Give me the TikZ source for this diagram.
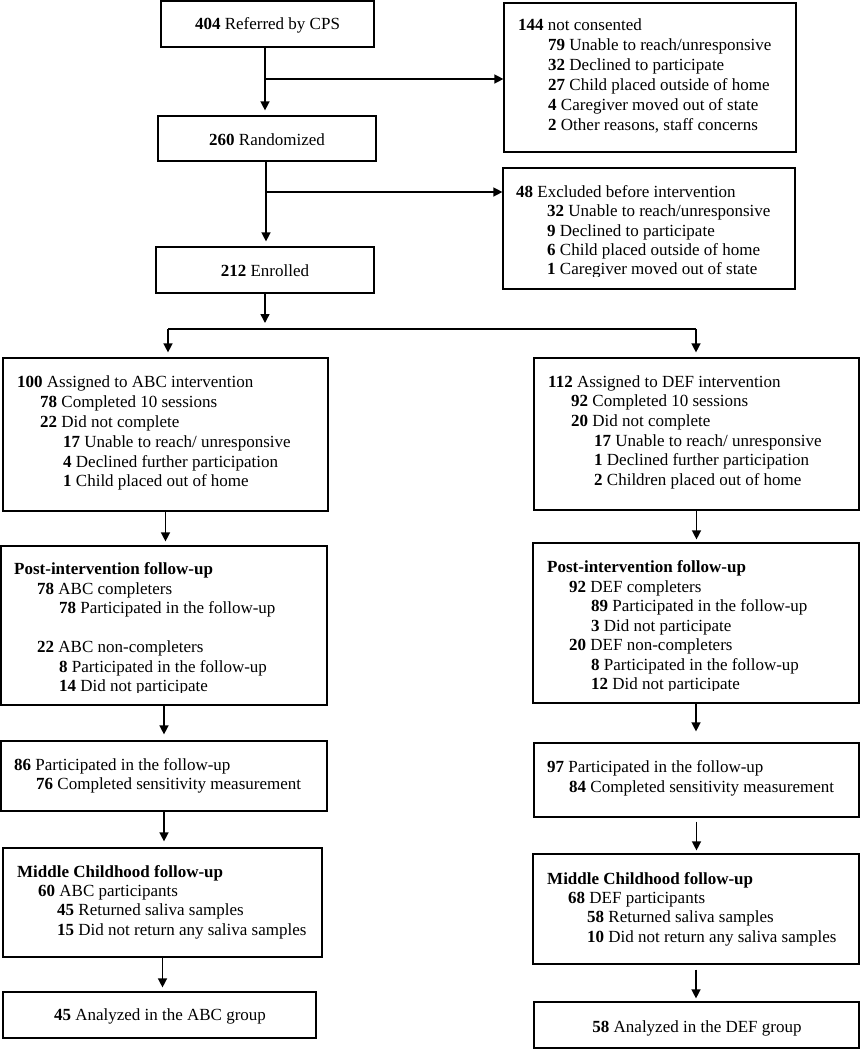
\documentclass[tikz,border=0pt]{standalone}
\usepackage{fontspec}
\setmainfont{Liberation Serif}
\usetikzlibrary{arrows.meta,fit}
\tikzset{
 box/.style={draw, line width=1.2pt, inner sep=0pt},
 txt/.style={inner sep=0pt, font=\fontsize{17}{20}\selectfont},
 arr/.style={line width=1.4pt, -{Triangle[length=9pt,width=9pt]}},
 conn/.style={line width=1.4pt},
}
\newcommand{\BoxN}[5]{\node[box, fit={(#2,#3) (#4,#5)}] (#1) {};}
\newcommand{\FLine}[4]{\node[txt, anchor=base west] (#1) at (#2,#3) {#4};}
\newcommand{\CLine}[4]{\node[txt, anchor=base] (#1) at (#2,#3) {#4};}
\begin{document}
\begin{tikzpicture}[x=1pt,y=-1pt]
\useasboundingbox (0,0) rectangle (861,1050);
% boxes
\BoxN{b404}{161}{1}{374}{47}
\BoxN{b144}{504}{3}{796}{152}
\BoxN{b260}{158}{116}{376}{161}
\BoxN{b48}{503}{168}{795}{289}
\BoxN{b212}{156}{247}{374}{293}
\BoxN{bABC}{3}{358}{328}{511}
\BoxN{bDEF}{534}{358}{859}{510}
\BoxN{pABC}{1}{546}{327}{705}
\BoxN{pDEF}{533}{543}{859}{703}
\BoxN{sABC}{1}{741}{327}{811}
\BoxN{sDEF}{534}{743}{859}{817}
\BoxN{mABC}{3}{848}{322}{957}
\BoxN{mDEF}{533}{854}{859}{964}
\BoxN{aABC}{3}{992}{316}{1038}
\BoxN{aDEF}{534}{1002}{859}{1048}
% centered texts
\CLine{t404}{267.5}{29.5}{\textbf{404} Referred by CPS}
\CLine{t260}{267}{145}{\textbf{260} Randomized}
\CLine{t212}{265}{276}{\textbf{212} Enrolled}
\CLine{tAa}{160}{1020}{\textbf{45} Analyzed in the ABC group}
\CLine{tDa}{697}{1032}{\textbf{58} Analyzed in the DEF group}
% 144 box
\FLine{n1}{518}{30}{\textbf{144} not consented}
\FLine{n2}{548}{50}{\textbf{79} Unable to reach/unresponsive}
\FLine{n3}{548}{70}{\textbf{32} Declined to participate}
\FLine{n4}{548}{90}{\textbf{27} Child placed outside of home}
\FLine{n5}{548}{110}{\textbf{4} Caregiver moved out of state}
\FLine{n6}{548}{130}{\textbf{2} Other reasons, staff concerns}
% 48 box
\FLine{e1}{516}{197}{\textbf{48} Excluded before intervention}
\FLine{e2}{547}{216}{\textbf{32} Unable to reach/unresponsive}
\FLine{e3}{547}{236}{\textbf{9} Declined to participate}
\FLine{e4}{547}{255}{\textbf{6} Child placed outside of home}
\begin{scope}
\clip (504,258) rectangle (794,276);
\FLine{e5}{547}{274}{\textbf{1} Caregiver moved out of state}
\end{scope}
% ABC assigned
\FLine{a1}{17}{387}{\textbf{100} Assigned to ABC intervention}
\FLine{a2}{40}{407}{\textbf{78} Completed 10 sessions}
\FLine{a3}{40}{427}{\textbf{22} Did not complete}
\FLine{a4}{63}{447}{\textbf{17} Unable to reach/ unresponsive}
\FLine{a5}{63}{467}{\textbf{4} Declined further participation}
\FLine{a6}{63}{486}{\textbf{1} Child placed out of home}
% DEF assigned
\FLine{d1}{548}{387}{\textbf{112} Assigned to DEF intervention}
\FLine{d2}{571}{406}{\textbf{92} Completed 10 sessions}
\FLine{d3}{571}{426}{\textbf{20} Did not complete}
\FLine{d4}{594}{446}{\textbf{17} Unable to reach/ unresponsive}
\FLine{d5}{594}{465}{\textbf{1} Declined further participation}
\FLine{d6}{594}{485}{\textbf{2} Children placed out of home}
% post ABC
\FLine{pa1}{14}{574}{\textbf{Post-intervention follow-up}}
\FLine{pa2}{37}{594}{\textbf{78} ABC completers}
\FLine{pa3}{59}{613}{\textbf{78} Participated in the follow-up}
\FLine{pa4}{37}{652}{\textbf{22} ABC non-completers}
\FLine{pa5}{59}{672}{\textbf{8} Participated in the follow-up}
\begin{scope}
\clip (2,674) rectangle (326,692.5);
\FLine{pa6}{59}{691}{\textbf{14} Did not participate}
\end{scope}
% post DEF
\FLine{pd1}{547}{572}{\textbf{Post-intervention follow-up}}
\FLine{pd2}{569}{592}{\textbf{92} DEF completers}
\FLine{pd3}{591}{611}{\textbf{89} Participated in the follow-up}
\FLine{pd4}{591}{631}{\textbf{3} Did not participate}
\FLine{pd5}{569}{650}{\textbf{20} DEF non-completers}
\FLine{pd6}{591}{670}{\textbf{8} Participated in the follow-up}
\begin{scope}
\clip (534,672) rectangle (858,690.5);
\FLine{pd7}{591}{689}{\textbf{12} Did not participate}
\end{scope}
% sensitivity
\FLine{sa1}{14}{770}{\textbf{86} Participated in the follow-up}
\FLine{sa2}{36}{789}{\textbf{76} Completed sensitivity measurement}
\FLine{sd1}{547}{772}{\textbf{97} Participated in the follow-up}
\FLine{sd2}{569}{792}{\textbf{84} Completed sensitivity measurement}
% middle childhood
\FLine{ma1}{17}{877}{\textbf{Middle Childhood follow-up}}
\FLine{ma2}{38}{896}{\textbf{60} ABC participants}
\FLine{ma3}{57}{915}{\textbf{45} Returned saliva samples}
\FLine{ma4}{57}{935}{\textbf{15} Did not return any saliva samples}
\FLine{md1}{547}{884}{\textbf{Middle Childhood follow-up}}
\FLine{md2}{568}{903}{\textbf{68} DEF participants}
\FLine{md3}{587}{922}{\textbf{58} Returned saliva samples}
\FLine{md4}{587}{942}{\textbf{10} Did not return any saliva samples}
% connectors
\coordinate (j1) at (265,79);
\coordinate (j2) at (266,192);
\coordinate (sp) at (265,329);
\coordinate (spL) at (168,329);
\coordinate (spR) at (696,329);
\draw[arr, shorten >=5pt] (b404.south -| j1) -- (b260.north -| j1);
\draw[arr] (j1) -- (j1 -| b144.west);
\draw[arr, shorten >=5pt] (b260.south -| j2) -- (b212.north -| j2);
\draw[arr] (j2) -- (j2 -| b48.west);
\draw[arr, shorten >=6pt] (b212.south -| sp) -- (sp);
\draw[conn] (spL) -- (spR);
\draw[arr, shorten >=5pt] (spL) -- (bABC.north -| spL);
\draw[arr, shorten >=5pt] (spR) -- (bDEF.north -| spR);
\draw[arr, shorten >=4pt] (bABC.south) -- (bABC.south |- pABC.north);
\draw[arr, shorten >=3pt] (bDEF.south) -- (bDEF.south |- pDEF.north);
\draw[arr, shorten >=6pt] (pABC.south) -- (pABC.south |- sABC.north);
\draw[arr, shorten >=11pt] (pDEF.south) -- (pDEF.south |- sDEF.north);
\draw[arr, shorten >=6pt] (sABC.south) -- (sABC.south |- mABC.north);
\draw[arr, shorten <=4pt, shorten >=3pt] (sDEF.south) -- (sDEF.south |- mDEF.north);
\draw[arr, shorten >=4pt] (mABC.south) -- (mABC.south |- aABC.north);
\draw[arr, shorten <=5pt, shorten >=3pt] (mDEF.south) -- (mDEF.south |- aDEF.north);
\end{tikzpicture}
\end{document}
